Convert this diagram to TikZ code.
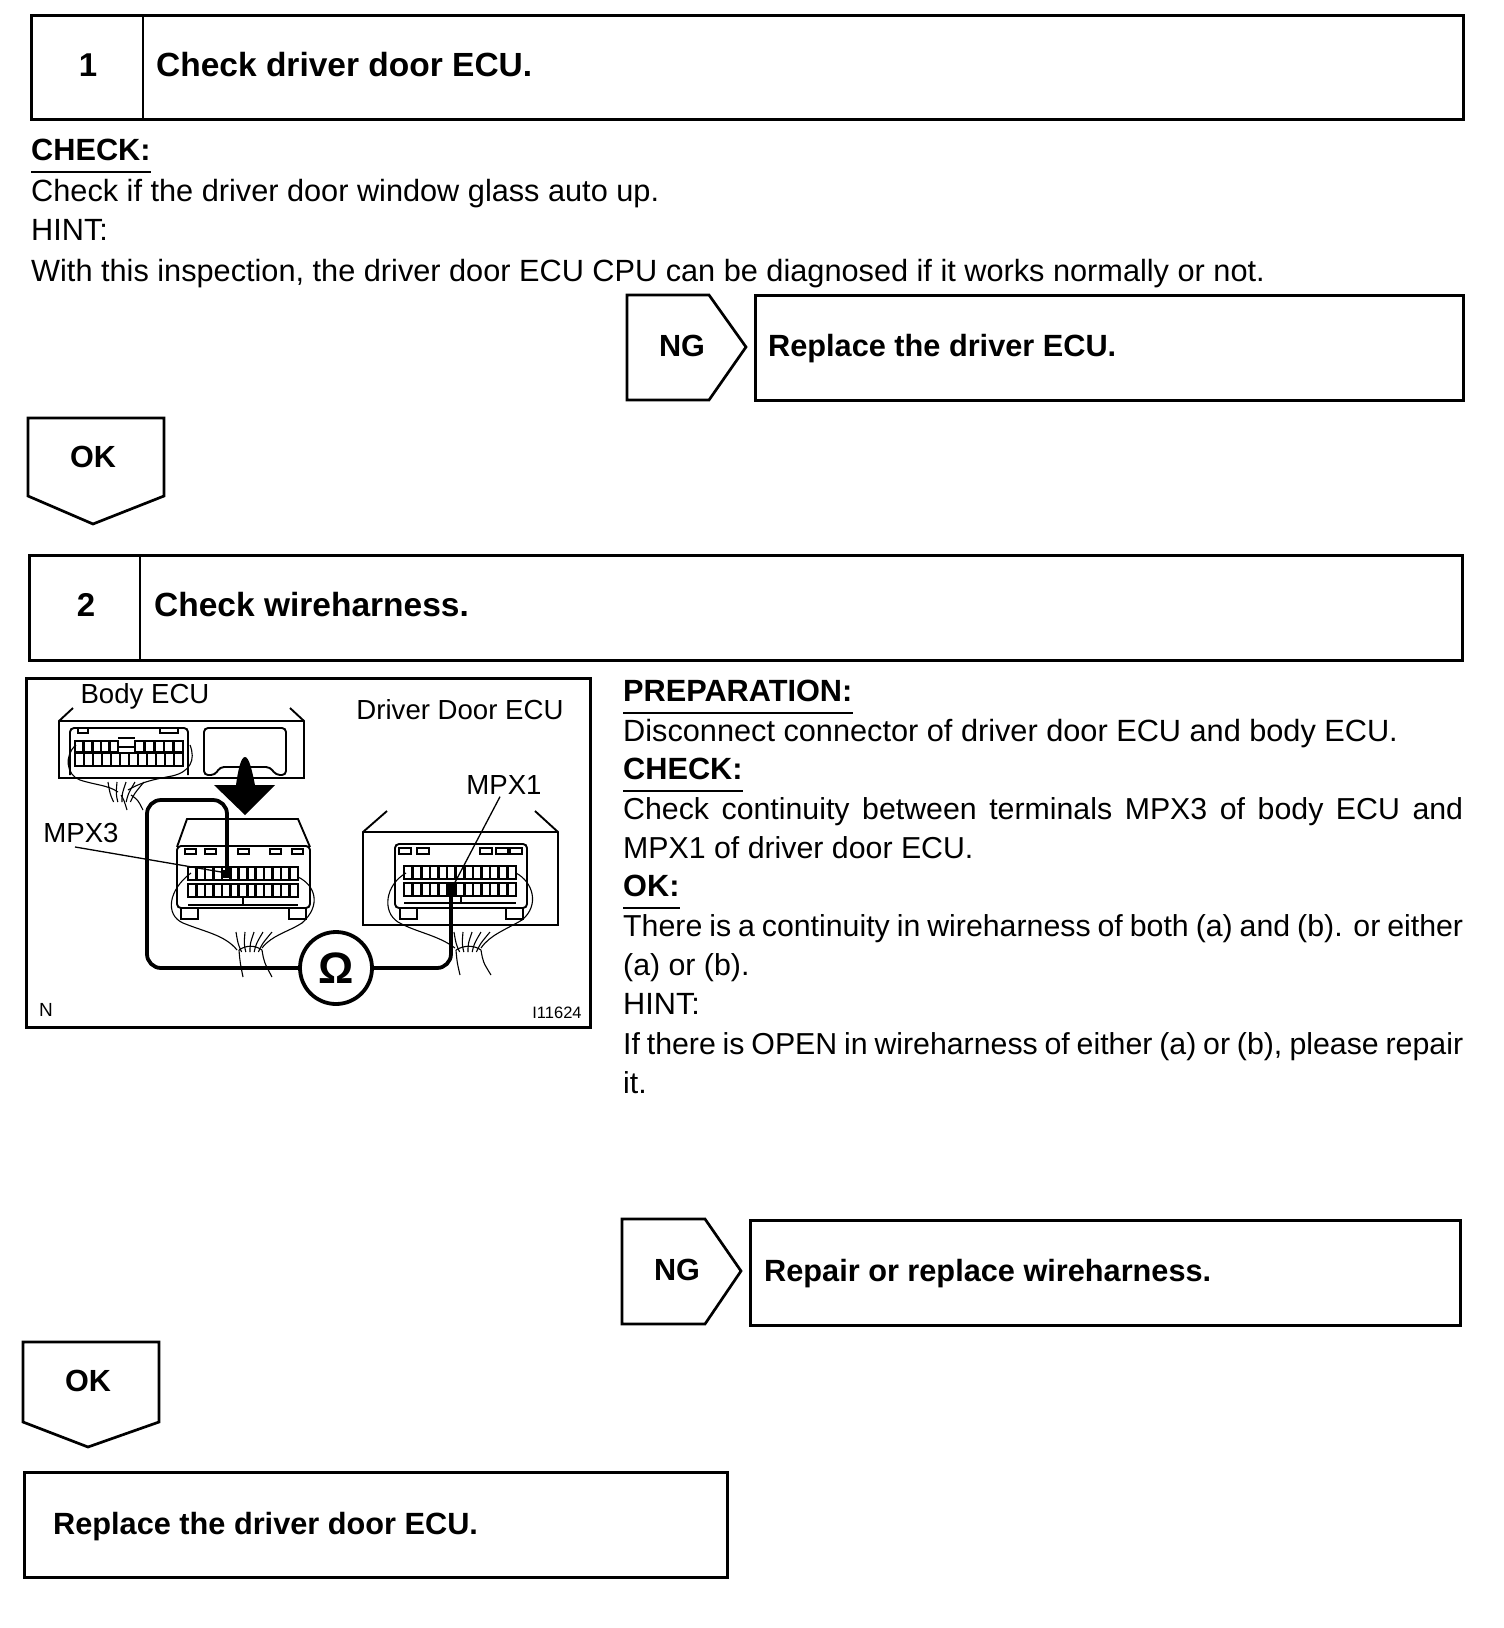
\documentclass[tikz,border=0pt]{standalone}
\usepackage{fontspec}
\setmainfont{Liberation Sans}
\usetikzlibrary{positioning, calc}

\tikzset{
  stepbox/.style={draw, line width=2.9pt, anchor=north west, inner sep=0pt},
  tipshape/.style={draw, line width=2.7pt, line join=miter},
  numtext/.style={inner sep=0pt, font=\fontsize{33}{39}\selectfont\bfseries},
  tiptext/.style={inner sep=0pt, font=\fontsize{30.6}{39}\selectfont\bfseries},
  titletext/.style={anchor=west, inner sep=0pt, font=\fontsize{33.5}{39}\selectfont\bfseries},
  boxtext/.style={anchor=west, inner sep=0pt, font=\fontsize{30.7}{39}\selectfont\bfseries},
  bodytext/.style={anchor=west, inner sep=0pt, font=\fontsize{30.7}{39}\selectfont},
  headtext/.style={anchor=west, inner sep=0pt, font=\fontsize{30.7}{39}\selectfont\bfseries},
  parablock/.style={anchor=north west, inner sep=0pt, text width=840pt, align=justify, font=\fontsize{30.3}{39}\selectfont},
  figtext/.style={inner sep=0pt, font=\fontsize{27.6}{30}\selectfont},
  thinline/.style={line width=1.1pt},
  unit/.style={line width=1.9pt},
  testlead/.style={line width=3.8pt, rounded corners=14pt},
}

% one row of connector terminals
\newcommand{\termrow}[5]{%
  \draw[line width=2.2pt] (#1,#3) rectangle (#2,#4);
  \foreach \k in {1,...,#5}
    \draw[line width=2.6pt] ({#1+(#2-#1)*\k/(#5+1)},#3) -- ({#1+(#2-#1)*\k/(#5+1)},#4);
}
% cable tail: fan of wires leaving the loop
\newcommand{\wirefan}[2]{%
  \foreach \dx in {-12,-6,0,6,12}
    \draw[thinline] (#1+\dx*0.7,#2+6) .. controls (#1+\dx,#2-2) .. (#1+\dx*1.5+4,#2-14);
}

\begin{document}
\begin{tikzpicture}[x=1pt, y=-1pt]
    \useasboundingbox (0,0) rectangle (1504,1628);

    % step 1
    \node[stepbox, minimum width=1432pt, minimum height=104pt] (stepa) at (30,14) {};
    \draw[line width=2.9pt] (143,14) -- (143,118);
    \node[numtext] (numa) at (88,65) {1};
    \node[titletext] (titlea) at (156,65) {Check driver door ECU.};
    \node[headtext] (hchka) at (31,150) {CHECK:};
    \node[bodytext] (linea) at (31,194) {Check if the driver door window glass auto up.};
    \node[bodytext] (lineb) at (31,230) {HINT:};
    \node[bodytext] (linec) at (31,274) {With this inspection, the driver door ECU CPU can be diagnosed if it works normally or not.};

    \draw[tipshape] (627,295) -- (709,295) -- (746,347) -- (709,400) -- (627,400) -- cycle;
    \node[tiptext] (nga) at (682,346) {NG};
    \node[stepbox, minimum width=708pt, minimum height=105pt] (fixa) at (754,294) {};
    \node[boxtext] (fixatext) at (768,349) {Replace the driver ECU.};

    \draw[tipshape] (28,418) -- (164,418) -- (164,496) -- (93,524) -- (28,496) -- cycle;
    \node[tiptext] (oka) at (93,457) {OK};

    % step 2
    \node[stepbox, minimum width=1433pt, minimum height=105pt] (stepb) at (28,554) {};
    \draw[line width=2.9pt] (140,554) -- (140,659);
    \node[numtext] (numb) at (86,605) {2};
    \node[titletext] (titleb) at (154,605) {Check wireharness.};

    \node[headtext] (hprep) at (623,691) {PREPARATION:};
    \node[bodytext] (lined) at (623,734) {Disconnect connector of driver door ECU and body ECU.};
    \node[headtext] (hchkb) at (623,769) {CHECK:};
    \node[parablock] (parab) at (623,797) {Check continuity between terminals MPX3 of body ECU and MPX1 of driver door ECU.};
    \node[headtext] (hok) at (623,886) {OK:};
    \node[parablock] (parac) at (623,914) {There is a continuity in wireharness of both (a) and (b). or either (a) or (b).};
    \node[bodytext] (linee) at (623,1004) {HINT:};
    \node[parablock] (parad) at (623,1032) {If there is OPEN in wireharness of either (a) or (b), please repair it.};

    \foreach \h in {hchka, hprep, hchkb, hok}
        \draw[line width=1.5pt] ([yshift=-11pt]\h.south west) -- ([yshift=-11pt]\h.south east);

    \draw[tipshape] (622,1219) -- (705,1219) -- (741,1271) -- (705,1324) -- (622,1324) -- cycle;
    \node[tiptext] (ngb) at (677,1270) {NG};
    \node[stepbox, minimum width=710pt, minimum height=105pt] (fixb) at (749,1219) {};
    \node[boxtext] (fixbtext) at (764,1274) {Repair or replace wireharness.};

    \draw[tipshape] (23,1342) -- (159,1342) -- (159,1422) -- (88,1447) -- (23,1422) -- cycle;
    \node[tiptext] (okb) at (88,1381) {OK};

    \node[stepbox, minimum width=703pt, minimum height=105pt] (fixc) at (23,1471) {};
    \node[boxtext] (fixctext) at (53,1527) {Replace the driver door ECU.};

    % illustration
    \node[stepbox, line width=2.6pt, minimum width=564pt, minimum height=349pt] (frame) at (25,677) {};
    \node[figtext] (lblbody) at (145,696) {Body ECU};
    \node[figtext] (lbldoor) at (460,710) {Driver Door ECU};
    \node[figtext] (lblthree) at (81,833) {MPX3};
    \node[figtext] (lblone) at (504,785) {MPX1};
    \node[figtext, font=\fontsize{19}{22}\selectfont] (lbln) at (46,1010) {N};
    \node[figtext, font=\fontsize{16.5}{20}\selectfont] (lblid) at (557,1013) {I11624};

    % body ECU
    \draw[unit] (73,708) -- (59,721) -- (59,778) -- (304,778) -- (304,721) -- (290,708);
    \draw[unit] (59,721) -- (304,721);
    \draw[unit, rounded corners=4pt] (70,775) -- (70,728) -- (188,728) -- (188,775);
    \draw[unit] (78,733) rectangle (88,728) (160,733) rectangle (178,728);
    \termrow{75}{118}{741}{752}{4}
    \termrow{135}{183}{741}{752}{4}
    \draw[line width=2.6pt] (118,747) -- (135,747) (118,738) -- (135,738);
    \termrow{75}{183}{753}{766}{11}
    \draw[unit, rounded corners=4pt] (215,775) -- (204,775) -- (204,728) -- (286,728) -- (286,775) -- (276,775) -- (270,767) -- (220,767) -- cycle;
    \draw[thinline] (190,745) .. controls (196,760) and (190,772) .. (172,776) .. controls (150,780) and (140,783) .. (128,790);
    \draw[thinline] (76,745) .. controls (64,755) and (66,775) .. (80,780) .. controls (95,785) and (108,785) .. (118,792);
    \wirefan{122}{796}
    \draw[thinline] (121,795) .. controls (124,800) .. (127,810);
    \draw[thinline] (131,795) .. controls (138,800) .. (143,810);

    % arrow
    \fill (245,757) .. controls (249,757) and (252,770) .. (255,785) -- (275,785) -- (245,815) -- (214,785) -- (236,785) .. controls (238,770) and (241,757) .. (245,757) -- cycle;

    % middle connector
    \draw[unit] (177,847) -- (187,819) -- (298,819) -- (310,847);
    \draw[unit, rounded corners=4pt] (177,908) -- (177,846) -- (310,846) -- (310,908) -- cycle;
    \draw[unit] (181,908) rectangle (198,919) (289,908) rectangle (306,919);
    \foreach \px in {185,205,238,270,292}
        \draw[line width=1.4pt] (\px,849) rectangle (\px+11,854);
    \termrow{188}{298}{867}{880}{12}
    \termrow{188}{298}{884}{897}{12}
    \draw[unit] (188,905) -- (298,905);
    \draw[line width=2.6pt] (243,897) -- (243,905);
    \draw[thinline] (298,877) .. controls (315,885) and (322,905) .. (302,923) .. controls (288,932) and (272,935) .. (262,948);
    \draw[thinline] (191,873) .. controls (168,890) and (165,915) .. (183,923) .. controls (205,932) and (225,935) .. (237,950);
    \wirefan{250}{946}
    \draw[thinline] (239,950) .. controls (246,945) and (255,945) .. (262,950);
    \draw[thinline] (239,950) .. controls (240,962) .. (243,977);
    \draw[thinline] (262,950) .. controls (264,962) .. (272,977);

    % driver door ECU
    \draw[unit] (387,811) -- (363,832) -- (363,925) -- (558,925) -- (558,832) -- (535,811);
    \draw[unit] (363,832) -- (558,832);
    \draw[unit, rounded corners=4pt] (395,908) -- (395,844) -- (527,844) -- (527,908) -- cycle;
    \draw[unit] (400,908) rectangle (417,919) (506,908) rectangle (523,919);
    \foreach \px in {399,417,480,496,510}
        \draw[line width=1.4pt] (\px,848) rectangle (\px+12,854);
    \termrow{404}{516}{866}{879}{12}
    \termrow{404}{516}{883}{896}{12}
    \draw[unit] (404,903) -- (516,903);
    \draw[line width=2.6pt] (461,896) -- (461,903);
    \draw[thinline] (516,873) .. controls (533,882) and (540,905) .. (522,920) .. controls (505,930) and (490,935) .. (481,948);
    \draw[thinline] (406,873) .. controls (385,885) and (382,912) .. (398,922) .. controls (415,932) and (438,935) .. (455,948);
    \wirefan{468}{946}
    \draw[thinline] (456,950) .. controls (464,945) and (474,945) .. (481,950);
    \draw[thinline] (456,950) .. controls (457,962) .. (460,975);
    \draw[thinline] (481,950) .. controls (483,962) .. (491,975);

    % ohmmeter and test leads
    \node[circle, draw, line width=3.8pt, fill=white, minimum size=72pt, inner sep=0pt, font=\fontsize{44}{44}\selectfont\bfseries] (ohm) at (336,968) {Ω};
    \coordinate (proba) at (227,873);
    \coordinate (probb) at (451,890);
    \draw[testlead] (proba) -- (227,800) -- (147,800) -- (147,968) -- (ohm.west);
    \draw[testlead] (ohm.east) -- (451,968) -- (probb);
    \fill (proba) ++(-4,-3) rectangle ++(8,8);
    \fill (probb) ++(-4,-6) rectangle ++(8,12);

    % leader lines
    \draw[line width=1.3pt] (lblthree.south) ++(-6,4) -- (proba);
    \draw[line width=1.3pt] (lblone.south) ++(-4,2) -- (probb);
\end{tikzpicture}
\end{document}
